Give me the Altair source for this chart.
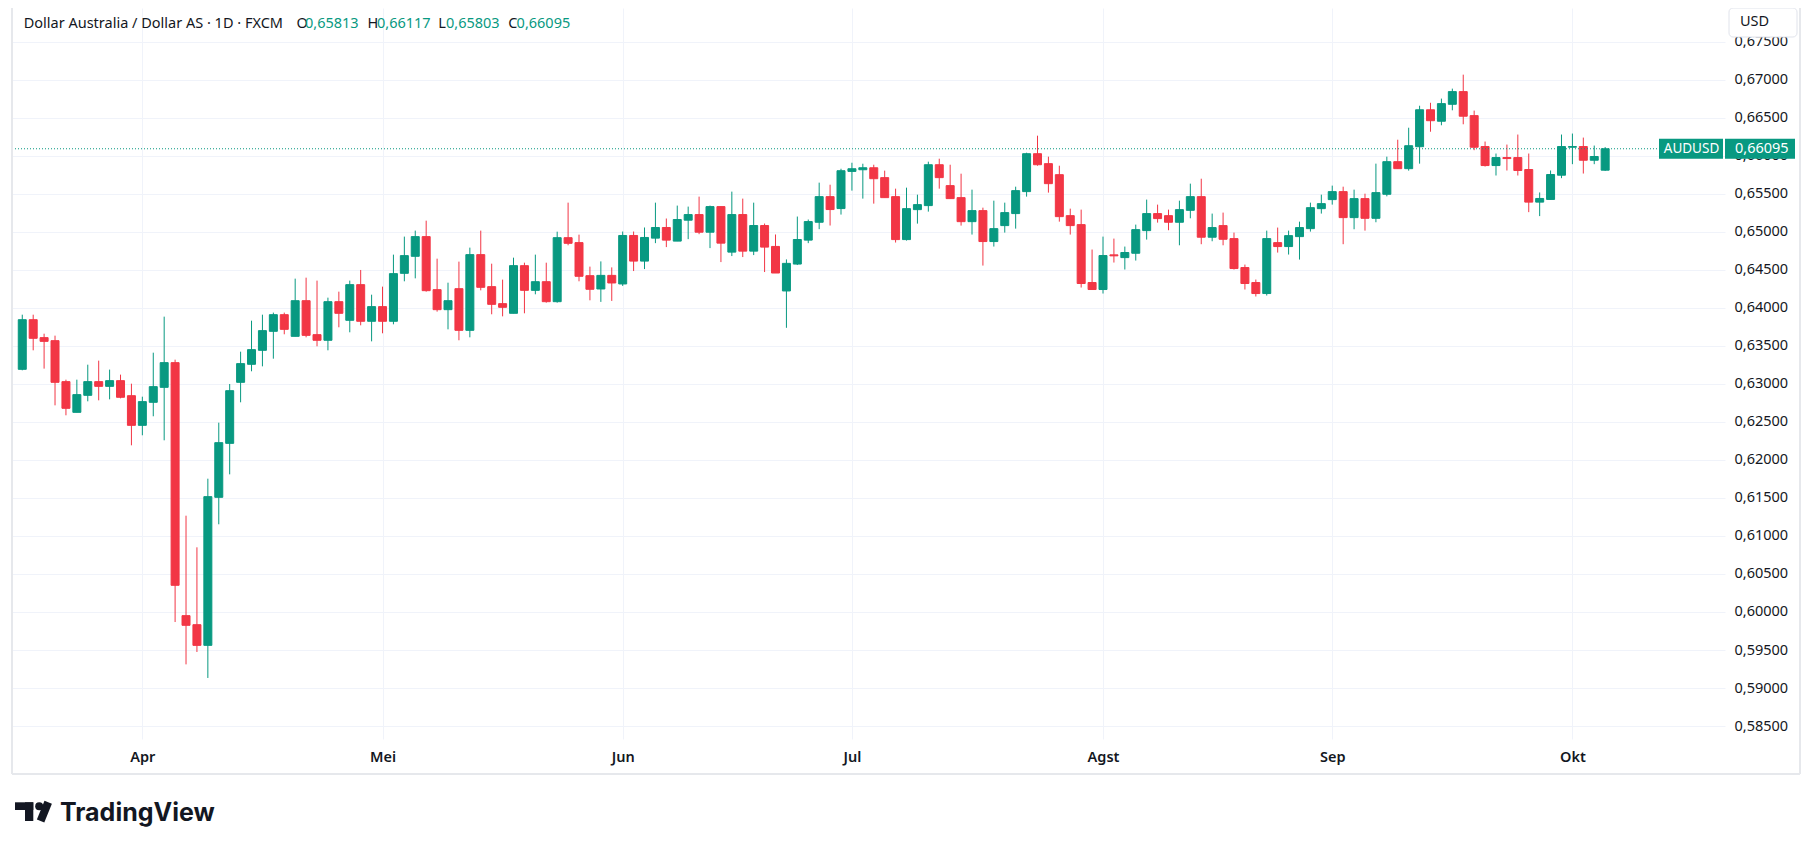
import altair as alt
import pandas as pd

# ---------------- data (AUD/USD daily, FXCM) ----------------
start_date = "2025-03-17"
open_ = [0.63193, 0.63846, 0.63610, 0.63570, 0.63031, 0.62627, 0.62851, 0.63031, 0.62969, 0.63044,
         0.62846, 0.62456, 0.62759, 0.62956, 0.63281, 0.59952, 0.59833, 0.59561, 0.61509, 0.62219,
         0.63022, 0.63259, 0.63443, 0.63693, 0.63912, 0.63627, 0.64096, 0.63649, 0.63575, 0.64083,
         0.63838, 0.64307, 0.63825, 0.64018, 0.63825, 0.64456, 0.64680, 0.64939, 0.64241, 0.63978,
         0.64254, 0.63706, 0.64702, 0.64281, 0.64057, 0.63930, 0.64557, 0.64232, 0.64346, 0.64083,
         0.64925, 0.64860, 0.64425, 0.64250, 0.64429, 0.64316, 0.64954, 0.64617, 0.64919, 0.65059,
         0.64880, 0.65155, 0.65229, 0.64997, 0.65334, 0.64735, 0.65229, 0.64748, 0.65085, 0.64810,
         0.64224, 0.64578, 0.64893, 0.65128, 0.65465, 0.65308, 0.65797, 0.65819, 0.65845, 0.65715,
         0.65465, 0.64900, 0.65294, 0.65347, 0.65885, 0.65610, 0.65452, 0.65136, 0.65281, 0.64874,
         0.65084, 0.65242, 0.65531, 0.66030, 0.65899, 0.65754, 0.65215, 0.65097, 0.64335, 0.64243,
         0.64699, 0.64663, 0.64720, 0.65018, 0.65242, 0.65215, 0.65128, 0.65285, 0.65465, 0.64931,
         0.65084, 0.64913, 0.64532, 0.64335, 0.64190, 0.64860, 0.64808, 0.64939, 0.65044, 0.65307,
         0.65426, 0.65531, 0.65189, 0.65439, 0.65180, 0.65496, 0.65925, 0.65833, 0.66122, 0.66608,
         0.66457, 0.66680, 0.66847, 0.66531, 0.66124, 0.65874, 0.65979, 0.65979, 0.65822, 0.65393,
         0.65428, 0.65747, 0.66115, 0.66124, 0.65944, 0.65813]
high = [0.63912, 0.63912, 0.63662, 0.63636, 0.63057, 0.63057, 0.63254, 0.63307, 0.63189, 0.63123,
        0.63004, 0.62833, 0.63412, 0.63886, 0.63320, 0.61267, 0.60851, 0.61754, 0.62491, 0.63000,
        0.63425, 0.63833, 0.63912, 0.63939, 0.63939, 0.64386, 0.64399, 0.64360, 0.64136, 0.64215,
        0.64360, 0.64500, 0.64175, 0.64281, 0.64702, 0.64939, 0.65018, 0.65149, 0.64649, 0.64333,
        0.64610, 0.64794, 0.65018, 0.64583, 0.64373, 0.64662, 0.64596, 0.64702, 0.64596, 0.65004,
        0.65386, 0.64965, 0.64544, 0.64613, 0.64534, 0.65006, 0.65006, 0.65059, 0.65386, 0.65177,
        0.65347, 0.65334, 0.65465, 0.65347, 0.65334, 0.65531, 0.65439, 0.65386, 0.65111, 0.64967,
        0.64639, 0.65203, 0.65164, 0.65649, 0.65622, 0.65832, 0.65911, 0.65898, 0.65885, 0.65807,
        0.65570, 0.65583, 0.65491, 0.65925, 0.65964, 0.65885, 0.65767, 0.65557, 0.65320, 0.65412,
        0.65386, 0.65596, 0.66043, 0.66267, 0.65991, 0.65872, 0.65307, 0.65294, 0.64769, 0.64939,
        0.64913, 0.64808, 0.65097, 0.65426, 0.65360, 0.65294, 0.65412, 0.65636, 0.65701, 0.65242,
        0.65255, 0.64992, 0.64571, 0.64374, 0.65018, 0.65058, 0.65018, 0.65136, 0.65386, 0.65491,
        0.65610, 0.65596, 0.65557, 0.65504, 0.65899, 0.65991, 0.66214, 0.66372, 0.66661, 0.66700,
        0.66755, 0.66886, 0.67070, 0.66597, 0.66190, 0.66032, 0.66150, 0.66282, 0.66032, 0.65520,
        0.65809, 0.66282, 0.66295, 0.66242, 0.66137, 0.66117]
low = [0.63180, 0.63443, 0.63202, 0.62719, 0.62588, 0.62627, 0.62772, 0.62785, 0.62798, 0.62811,
       0.62193, 0.62325, 0.62575, 0.62259, 0.59868, 0.59311, 0.59474, 0.59132, 0.61154, 0.61811,
       0.62759, 0.63167, 0.63232, 0.63333, 0.63654, 0.63627, 0.63614, 0.63496, 0.63443, 0.63746,
       0.63680, 0.63772, 0.63561, 0.63667, 0.63785, 0.64351, 0.64390, 0.64215, 0.63952, 0.63719,
       0.63575, 0.63614, 0.64232, 0.63917, 0.63890, 0.63930, 0.63930, 0.64180, 0.64070, 0.64070,
       0.64825, 0.64351, 0.64101, 0.64080, 0.64093, 0.64290, 0.64486, 0.64512, 0.64853, 0.64801,
       0.64880, 0.64906, 0.64971, 0.64788, 0.64604, 0.64683, 0.64670, 0.64696, 0.64473, 0.64460,
       0.63739, 0.64565, 0.64853, 0.65037, 0.65085, 0.65229, 0.65544, 0.65439, 0.65373, 0.65452,
       0.64861, 0.64887, 0.65110, 0.65268, 0.65570, 0.65439, 0.65084, 0.64966, 0.64558, 0.64808,
       0.64992, 0.65044, 0.65465, 0.65872, 0.65518, 0.65136, 0.64966, 0.64269, 0.64243, 0.64190,
       0.64598, 0.64506, 0.64624, 0.64900, 0.65123, 0.65023, 0.64825, 0.65180, 0.64839, 0.64878,
       0.64825, 0.64506, 0.64243, 0.64151, 0.64164, 0.64729, 0.64703, 0.64637, 0.65005, 0.65242,
       0.65360, 0.64839, 0.65036, 0.65018, 0.65128, 0.65469, 0.65833, 0.65807, 0.65899, 0.66319,
       0.66404, 0.66601, 0.66417, 0.66076, 0.65861, 0.65743, 0.65809, 0.65743, 0.65261, 0.65209,
       0.65428, 0.65708, 0.65892, 0.65769, 0.65892, 0.65803]
close = [0.63846, 0.63601, 0.63561, 0.63022, 0.62680, 0.62860, 0.63031, 0.62969, 0.63044, 0.62825,
         0.62456, 0.62768, 0.62965, 0.63281, 0.60351, 0.59825, 0.59561, 0.61518, 0.62228, 0.62912,
         0.63268, 0.63452, 0.63702, 0.63912, 0.63719, 0.64096, 0.63640, 0.63575, 0.64083, 0.63930,
         0.64307, 0.63825, 0.64018, 0.63825, 0.64452, 0.64689, 0.64939, 0.64228, 0.63978, 0.64096,
         0.63706, 0.64702, 0.64272, 0.64048, 0.64009, 0.64557, 0.64232, 0.64346, 0.64083, 0.64925,
         0.64851, 0.64417, 0.64246, 0.64429, 0.64329, 0.64954, 0.64617, 0.64928, 0.65059, 0.64893,
         0.65164, 0.65229, 0.64997, 0.65334, 0.64853, 0.65229, 0.64748, 0.65085, 0.64801, 0.64460,
         0.64587, 0.64901, 0.65137, 0.65465, 0.65295, 0.65806, 0.65832, 0.65845, 0.65701, 0.65452,
         0.64900, 0.65307, 0.65360, 0.65885, 0.65715, 0.65439, 0.65136, 0.65281, 0.64874, 0.65044,
         0.65255, 0.65544, 0.66030, 0.65885, 0.65636, 0.65202, 0.65084, 0.64322, 0.64243, 0.64690,
         0.64686, 0.64730, 0.65031, 0.65242, 0.65176, 0.65128, 0.65294, 0.65465, 0.64931, 0.65058,
         0.64904, 0.64519, 0.64322, 0.64190, 0.64913, 0.64808, 0.64952, 0.65058, 0.65320, 0.65373,
         0.65531, 0.65189, 0.65439, 0.65180, 0.65518, 0.65925, 0.65833, 0.66135, 0.66608, 0.66464,
         0.66689, 0.66847, 0.66523, 0.66115, 0.65874, 0.65979, 0.65966, 0.65809, 0.65393, 0.65441,
         0.65756, 0.66124, 0.66124, 0.65944, 0.65993, 0.66095]

month_names = ["Apr", "Mei", "Jun", "Jul", "Agst", "Sep", "Okt"]
price_ticks = [round(0.585 + 0.005 * k, 3) for k in range(19)]

title_main = "Dollar Australia / Dollar AS · 1D · FXCM"
symbol = "AUDUSD"
currency = "USD"

# ---------------- frame ----------------
n = len(close)
dates = pd.bdate_range(start_date, periods=n)
df = pd.DataFrame({
    "idx": list(range(n)),
    "date": dates.strftime("%Y-%m-%d"),
    "open": open_, "high": high, "low": low, "close": close,
})
df["dir"] = ["up" if c >= o else "down" for o, c in zip(open_, close)]
tick_idx = [i for i in range(1, n) if dates[i].month != dates[i - 1].month]

def fmt(v):
    return f"{v:.5f}".replace(".", ",")

GREEN = "#089981"
RED = "#F23645"
TXT = "#131722"
GRID = "#f0f3fa"
FONT = "Noto Sans"

W, H = 1713, 731

xscale = alt.Scale(domain=[-0.483, 155.52], nice=False, zero=False)
yscale = alt.Scale(domain=[0.58329, 0.67947], nice=False, zero=False)

names_js = "[" + ",".join(f"'{m}'" for m in month_names) + "]"
idx_js = "[" + ",".join(str(i) for i in tick_idx) + "]"
xaxis = alt.Axis(values=tick_idx, labelExpr=f"{names_js}[indexof({idx_js}, datum.value)]",
                 grid=True, gridColor=GRID, gridWidth=1, ticks=False, tickSize=0, domain=False,
                 labelPadding=18, labelBaseline="middle", labelFontWeight=600, labelFontSize=14.5,
                 labelColor=TXT, labelFont=FONT, labelFlush=False, title=None)
yaxis = alt.Axis(orient="right", values=price_ticks,
                 labelExpr="replace(format(datum.value, '.5f'), '.', ',')",
                 grid=True, gridColor=GRID, gridWidth=1, ticks=False, tickSize=0, domain=False,
                 labelPadding=9, labelFontSize=14.5, labelColor=TXT, labelFont=FONT,
                 labelAlign="left", labelOverlap=False, title=None)

color_scale = alt.Scale(domain=["up", "down"], range=[GREEN, RED])

base = alt.Chart(df)
wicks = base.mark_rule(strokeWidth=1).encode(
    x=alt.X("idx:Q", scale=xscale, axis=xaxis),
    y=alt.Y("low:Q", scale=yscale, axis=yaxis),
    y2="high:Q",
    color=alt.Color("dir:N", scale=color_scale, legend=None),
)
bodies = base.mark_bar(width=8, strokeWidth=1).encode(
    x=alt.X("idx:Q", scale=xscale, axis=xaxis),
    y=alt.Y("open:Q", scale=yscale, axis=yaxis),
    y2="close:Q",
    color=alt.Color("dir:N", scale=color_scale, legend=None),
    stroke=alt.Stroke("dir:N", scale=color_scale, legend=None),
)

last = pd.DataFrame({"p": [close[-1]]})
lb = alt.Chart(last)
ly = alt.Y("p:Q", scale=yscale, axis=yaxis)
dotted = lb.mark_rule(color=GREEN, strokeWidth=1, strokeDash=[1, 2]).encode(
    y=ly, x=alt.value(0), x2=alt.value(W))
tag1 = lb.mark_rule(color=GREEN, strokeWidth=20).encode(
    y=ly, x=alt.value(1647), x2=alt.value(1711))
tag2 = lb.mark_rule(color=GREEN, strokeWidth=20).encode(
    y=ly, x=alt.value(1713), x2=alt.value(1783))
tag1_t = lb.mark_text(color="white", font=FONT, fontSize=13.5, align="center", baseline="middle").encode(
    y=ly, x=alt.value(1679.5), text=alt.value(symbol))
tag2_t = lb.mark_text(color="white", font=FONT, fontSize=14.5, align="left", baseline="middle").encode(
    y=ly, x=alt.value(1723), text=alt.value(fmt(close[-1])))

one = alt.Chart(pd.DataFrame({"a": [0]}))
usd_box = one.mark_rect(fill="white", stroke="#e0e3eb", strokeWidth=1, cornerRadius=4).encode(
    x=alt.value(1717), x2=alt.value(1785), y=alt.value(0), y2=alt.value(29))
usd_t = one.mark_text(color=TXT, font=FONT, fontSize=14.5, align="left", baseline="middle").encode(
    x=alt.value(1728), y=alt.value(14), text=alt.value(currency))

# title pieces
parts = [
    (title_main, 11.7, TXT),
    ("O", 284.6, TXT), (fmt(open_[-1]), 293, GREEN),
    ("H", 355.4, TXT), (fmt(high[-1]), 365, GREEN),
    ("L", 426.2, TXT), (fmt(low[-1]), 434, GREEN),
    ("C", 496.2, TXT), (fmt(close[-1]), 504.6, GREEN),
]
title_layers = [
    one.mark_text(color=col, font=FONT, fontSize=14.5, align="left", baseline="middle").encode(
        x=alt.value(xp), y=alt.value(16), text=alt.value(t))
    for t, xp, col in parts
]

# frame
FR = "#e6e8ec"
frame = [
    one.mark_rule(color=FR, strokeWidth=2).encode(x=alt.value(0), y=alt.value(0), y2=alt.value(766)),
    one.mark_rule(color=FR, strokeWidth=2).encode(x=alt.value(1788), y=alt.value(0), y2=alt.value(766)),
    one.mark_rule(color=FR, strokeWidth=2).encode(y=alt.value(766), x=alt.value(0), x2=alt.value(1788)),
]

# TradingView logo
logo = [
    one.mark_rect(color="#131722").encode(x=alt.value(3), x2=alt.value(21.3), y=alt.value(794.3), y2=alt.value(802)),
    one.mark_rect(color="#131722").encode(x=alt.value(13), x2=alt.value(21.3), y=alt.value(794.3), y2=alt.value(813)),
    one.mark_point(filled=True, shape="circle", size=64, color="#131722", opacity=1).encode(
        x=alt.value(27.2), y=alt.value(798.3)),
    one.mark_rule(color="#131722", strokeWidth=8).encode(
        x=alt.value(36.2), y=alt.value(794.3), x2=alt.value(28.6), y2=alt.value(813)),
    one.mark_text(color="#131722", font="Inter", fontWeight="bold", fontSize=25, align="left",
                  baseline="alphabetic").encode(x=alt.value(48), y=alt.value(813), text=alt.value("TradingView")),
]

chart = alt.layer(
    wicks, bodies, dotted, tag1, tag2, tag1_t, tag2_t, usd_box, usd_t,
    *title_layers, *frame, *logo,
).properties(
    width=W, height=H,
    autosize=alt.AutoSizeParams(type="none"),
    padding={"left": 4, "top": 0, "right": 80, "bottom": 100},
    background="white",
).configure_view(strokeWidth=0)

chart.save("out.html", embed_options={"renderer": "svg", "actions": False})
